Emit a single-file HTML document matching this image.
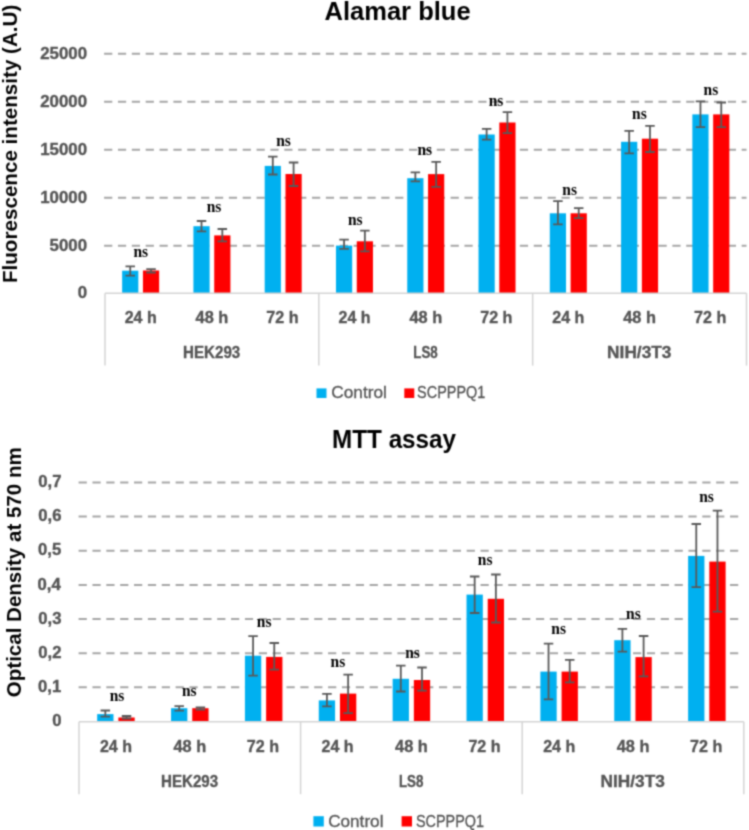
<!DOCTYPE html>
<html><head><meta charset="utf-8"><title>Alamar blue / MTT assay</title>
<style>
html,body{margin:0;padding:0;background:#fff;}
body{width:749px;height:830px;overflow:hidden;}
svg{display:block;}
text{font-family:"Liberation Sans",sans-serif;}
.ns{font-family:"Liberation Serif",serif;font-weight:bold;fill:#000;}
.cat,.tick{font-weight:bold;fill:#555555;stroke:#555555;stroke-width:0.35px;}
.title,.ytitle{font-weight:bold;fill:#000;}
.leg{fill:#555555;stroke:#555555;stroke-width:0.3px;}
</style></head>
<body>
<svg width="749" height="830" viewBox="0 0 749 830">
<defs><filter id="soft" x="0" y="0" width="749" height="830" filterUnits="userSpaceOnUse" primitiveUnits="userSpaceOnUse" color-interpolation-filters="sRGB"><feConvolveMatrix order="5" kernelMatrix="0.00009 0.00198 0.00548 0.00198 0.00009 0.00198 0.04220 0.11707 0.04220 0.00198 0.00548 0.11707 0.32480 0.11707 0.00548 0.00198 0.04220 0.11707 0.04220 0.00198 0.00009 0.00198 0.00548 0.00198 0.00009" divisor="1" edgeMode="duplicate" preserveAlpha="false"/></filter></defs>
<g filter="url(#soft)">
<rect width="749" height="830" fill="#fff"/>
<line x1="104.1" y1="53.70" x2="746.50" y2="53.70" stroke="#a6a6a6" stroke-width="2.0" stroke-dasharray="8.2 5.66"/>
<line x1="104.1" y1="101.70" x2="746.50" y2="101.70" stroke="#a6a6a6" stroke-width="2.0" stroke-dasharray="8.2 5.66"/>
<line x1="104.1" y1="149.70" x2="746.50" y2="149.70" stroke="#a6a6a6" stroke-width="2.0" stroke-dasharray="8.2 5.66"/>
<line x1="104.1" y1="197.70" x2="746.50" y2="197.70" stroke="#a6a6a6" stroke-width="2.0" stroke-dasharray="8.2 5.66"/>
<line x1="104.1" y1="245.70" x2="746.50" y2="245.70" stroke="#a6a6a6" stroke-width="2.0" stroke-dasharray="8.2 5.66"/>
<rect x="122.14" y="270.70" width="16.20" height="22.30" fill="#00b0f0"/>
<path d="M125.49 266.40H134.99M130.24 266.40V275.60M125.49 275.60H134.99" stroke="#595959" stroke-width="1.8" fill="none"/>
<rect x="142.94" y="270.50" width="16.20" height="22.50" fill="#ff0000"/>
<path d="M146.29 269.20H155.79M151.04 269.20V272.50M146.29 272.50H155.79" stroke="#595959" stroke-width="1.8" fill="none"/>
<text class="ns" font-size="16.0" transform="translate(133.43 257.40) scale(0.9700 1)">ns</text>
<rect x="193.42" y="226.20" width="16.20" height="66.80" fill="#00b0f0"/>
<path d="M196.77 221.00H206.27M201.52 221.00V231.40M196.77 231.40H206.27" stroke="#595959" stroke-width="1.8" fill="none"/>
<rect x="214.22" y="235.40" width="16.20" height="57.60" fill="#ff0000"/>
<path d="M217.57 229.00H227.07M222.32 229.00V241.40M217.57 241.40H227.07" stroke="#595959" stroke-width="1.8" fill="none"/>
<text class="ns" font-size="16.0" transform="translate(206.63 212.30) scale(0.9700 1)">ns</text>
<rect x="264.69" y="165.90" width="16.20" height="127.10" fill="#00b0f0"/>
<path d="M268.04 156.70H277.54M272.79 156.70V174.50M268.04 174.50H277.54" stroke="#595959" stroke-width="1.8" fill="none"/>
<rect x="285.49" y="174.00" width="16.20" height="119.00" fill="#ff0000"/>
<path d="M288.84 162.50H298.34M293.59 162.50V186.00M288.84 186.00H298.34" stroke="#595959" stroke-width="1.8" fill="none"/>
<text class="ns" font-size="16.0" transform="translate(276.13 146.30) scale(0.9700 1)">ns</text>
<rect x="335.97" y="245.60" width="16.20" height="47.40" fill="#00b0f0"/>
<path d="M339.32 239.60H348.82M344.07 239.60V248.80M339.32 248.80H348.82" stroke="#595959" stroke-width="1.8" fill="none"/>
<rect x="356.77" y="241.30" width="16.20" height="51.70" fill="#ff0000"/>
<path d="M360.12 230.70H369.62M364.87 230.70V251.40M360.12 251.40H369.62" stroke="#595959" stroke-width="1.8" fill="none"/>
<text class="ns" font-size="16.0" transform="translate(347.93 224.80) scale(0.9700 1)">ns</text>
<rect x="407.25" y="178.20" width="16.20" height="114.80" fill="#00b0f0"/>
<path d="M410.60 172.40H420.10M415.35 172.40V181.30M410.60 181.30H420.10" stroke="#595959" stroke-width="1.8" fill="none"/>
<rect x="428.05" y="174.10" width="16.20" height="118.90" fill="#ff0000"/>
<path d="M431.40 161.80H440.90M436.15 161.80V186.80M431.40 186.80H440.90" stroke="#595959" stroke-width="1.8" fill="none"/>
<text class="ns" font-size="16.0" transform="translate(417.43 155.30) scale(0.9700 1)">ns</text>
<rect x="478.53" y="134.50" width="16.20" height="158.50" fill="#00b0f0"/>
<path d="M481.88 128.80H491.38M486.63 128.80V139.70M481.88 139.70H491.38" stroke="#595959" stroke-width="1.8" fill="none"/>
<rect x="499.33" y="122.50" width="16.20" height="170.50" fill="#ff0000"/>
<path d="M502.68 112.10H512.18M507.43 112.10V133.10M502.68 133.10H512.18" stroke="#595959" stroke-width="1.8" fill="none"/>
<text class="ns" font-size="16.0" transform="translate(488.63 105.50) scale(0.9700 1)">ns</text>
<rect x="549.81" y="213.30" width="16.20" height="79.70" fill="#00b0f0"/>
<path d="M553.16 201.10H562.66M557.91 201.10V224.30M553.16 224.30H562.66" stroke="#595959" stroke-width="1.8" fill="none"/>
<rect x="570.61" y="213.30" width="16.20" height="79.70" fill="#ff0000"/>
<path d="M573.96 208.10H583.46M578.71 208.10V218.20M573.96 218.20H583.46" stroke="#595959" stroke-width="1.8" fill="none"/>
<text class="ns" font-size="16.0" transform="translate(562.33 195.30) scale(0.9700 1)">ns</text>
<rect x="621.08" y="141.80" width="16.20" height="151.20" fill="#00b0f0"/>
<path d="M624.43 130.80H633.93M629.18 130.80V153.40M624.43 153.40H633.93" stroke="#595959" stroke-width="1.8" fill="none"/>
<rect x="641.88" y="138.70" width="16.20" height="154.30" fill="#ff0000"/>
<path d="M645.23 125.90H654.73M649.98 125.90V152.00M645.23 152.00H654.73" stroke="#595959" stroke-width="1.8" fill="none"/>
<text class="ns" font-size="16.0" transform="translate(632.03 119.30) scale(0.9700 1)">ns</text>
<rect x="692.36" y="114.40" width="16.20" height="178.60" fill="#00b0f0"/>
<path d="M695.71 101.40H705.21M700.46 101.40V127.10M695.71 127.10H705.21" stroke="#595959" stroke-width="1.8" fill="none"/>
<rect x="713.16" y="114.40" width="16.20" height="178.60" fill="#ff0000"/>
<path d="M716.51 102.50H726.01M721.26 102.50V127.10M716.51 127.10H726.01" stroke="#595959" stroke-width="1.8" fill="none"/>
<text class="ns" font-size="16.0" transform="translate(703.53 94.50) scale(0.9700 1)">ns</text>
<path d="M105.00 293.20H746.50" stroke="#d4d4d4" stroke-width="1.5" fill="none"/>
<path d="M105.00 293.20V365.60" stroke="#d4d4d4" stroke-width="1.5" fill="none"/>
<path d="M318.83 293.20V365.60" stroke="#d4d4d4" stroke-width="1.5" fill="none"/>
<path d="M532.67 293.20V365.60" stroke="#d4d4d4" stroke-width="1.5" fill="none"/>
<path d="M746.50 293.20V365.60" stroke="#d4d4d4" stroke-width="1.5" fill="none"/>
<text class="cat" font-size="16.2" transform="translate(124.66 322.70) scale(0.9889 1)">24 h</text>
<text class="cat" font-size="16.2" transform="translate(195.59 322.70) scale(1.0095 1)">48 h</text>
<text class="cat" font-size="16.2" transform="translate(266.35 322.70) scale(0.9942 1)">72 h</text>
<text class="cat" font-size="16.2" transform="translate(338.49 322.70) scale(0.9889 1)">24 h</text>
<text class="cat" font-size="16.2" transform="translate(409.42 322.70) scale(1.0095 1)">48 h</text>
<text class="cat" font-size="16.2" transform="translate(480.18 322.70) scale(0.9942 1)">72 h</text>
<text class="cat" font-size="16.2" transform="translate(552.32 322.70) scale(0.9889 1)">24 h</text>
<text class="cat" font-size="16.2" transform="translate(623.26 322.70) scale(1.0095 1)">48 h</text>
<text class="cat" font-size="16.2" transform="translate(694.02 322.70) scale(0.9942 1)">72 h</text>
<text class="cat" font-size="16.2" transform="translate(183.11 358.30) scale(0.9335 1)">HEK293</text>
<text class="cat" font-size="16.2" transform="translate(413.27 358.30) scale(0.8242 1)">LS8</text>
<text class="cat" font-size="16.2" transform="translate(607.12 358.30) scale(1.0658 1)">NIH/3T3</text>
<text class="tick" font-size="16.0" transform="translate(40.15 58.50) scale(1.0550 1)">25000</text>
<text class="tick" font-size="16.0" transform="translate(40.15 106.50) scale(1.0550 1)">20000</text>
<text class="tick" font-size="16.0" transform="translate(40.15 154.50) scale(1.0550 1)">15000</text>
<text class="tick" font-size="16.0" transform="translate(40.15 202.50) scale(1.0550 1)">10000</text>
<text class="tick" font-size="16.0" transform="translate(49.60 250.50) scale(1.0550 1)">5000</text>
<text class="tick" font-size="16.0" transform="translate(77.79 297.80) scale(1.0550 1)">0</text>
<text class="title" font-size="25.9" transform="translate(324.53 19.80) scale(0.9857 1)">Alamar blue</text>
<text class="ytitle" font-size="21.0" transform="translate(16.50 283.04) rotate(-90) scale(0.9826 1)">Fluorescence intensity (A.U)</text>
<rect x="316.5" y="388.4" width="10.0" height="9.6" fill="#00b0f0"/>
<rect x="404.3" y="388.4" width="10.0" height="9.6" fill="#ff0000"/>
<text class="leg" font-size="16.5" transform="translate(331.24 397.90) scale(1.0465 1)">Control</text>
<text class="leg" font-size="16.5" transform="translate(417.08 397.90) scale(0.8750 1)">SCPPPQ1</text>
<line x1="78.6" y1="687.35" x2="743.80" y2="687.35" stroke="#a6a6a6" stroke-width="2.0" stroke-dasharray="8.2 5.66"/>
<line x1="78.6" y1="653.20" x2="743.80" y2="653.20" stroke="#a6a6a6" stroke-width="2.0" stroke-dasharray="8.2 5.66"/>
<line x1="78.6" y1="619.05" x2="743.80" y2="619.05" stroke="#a6a6a6" stroke-width="2.0" stroke-dasharray="8.2 5.66"/>
<line x1="78.6" y1="584.90" x2="743.80" y2="584.90" stroke="#a6a6a6" stroke-width="2.0" stroke-dasharray="8.2 5.66"/>
<line x1="78.6" y1="550.75" x2="743.80" y2="550.75" stroke="#a6a6a6" stroke-width="2.0" stroke-dasharray="8.2 5.66"/>
<line x1="78.6" y1="516.60" x2="743.80" y2="516.60" stroke="#a6a6a6" stroke-width="2.0" stroke-dasharray="8.2 5.66"/>
<line x1="78.6" y1="482.45" x2="743.80" y2="482.45" stroke="#a6a6a6" stroke-width="2.0" stroke-dasharray="8.2 5.66"/>
<rect x="97.18" y="714.10" width="16.30" height="7.70" fill="#00b0f0"/>
<path d="M100.58 710.50H110.08M105.33 710.50V716.70M100.58 716.70H110.08" stroke="#595959" stroke-width="1.8" fill="none"/>
<rect x="118.38" y="717.50" width="16.30" height="4.30" fill="#ff0000"/>
<path d="M121.78 716.00H131.28M126.53 716.00V718.50M121.78 718.50H131.28" stroke="#595959" stroke-width="1.8" fill="none"/>
<text class="ns" font-size="16.0" transform="translate(109.63 701.00) scale(0.9700 1)">ns</text>
<rect x="171.05" y="708.20" width="16.30" height="13.60" fill="#00b0f0"/>
<path d="M174.45 706.10H183.95M179.20 706.10V710.60M174.45 710.60H183.95" stroke="#595959" stroke-width="1.8" fill="none"/>
<rect x="192.25" y="708.20" width="16.30" height="13.60" fill="#ff0000"/>
<path d="M195.65 707.30H205.15M200.40 707.30V709.70M195.65 709.70H205.15" stroke="#595959" stroke-width="1.8" fill="none"/>
<text class="ns" font-size="16.0" transform="translate(181.93 695.80) scale(0.9700 1)">ns</text>
<rect x="244.92" y="655.70" width="16.30" height="66.10" fill="#00b0f0"/>
<path d="M248.32 636.20H257.82M253.07 636.20V675.60M248.32 675.60H257.82" stroke="#595959" stroke-width="1.8" fill="none"/>
<rect x="266.12" y="656.90" width="16.30" height="64.90" fill="#ff0000"/>
<path d="M269.52 643.00H279.02M274.27 643.00V669.70M269.52 669.70H279.02" stroke="#595959" stroke-width="1.8" fill="none"/>
<text class="ns" font-size="16.0" transform="translate(256.83 627.30) scale(0.9700 1)">ns</text>
<rect x="318.78" y="700.40" width="16.30" height="21.40" fill="#00b0f0"/>
<path d="M322.18 693.90H331.68M326.93 693.90V706.30M322.18 706.30H331.68" stroke="#595959" stroke-width="1.8" fill="none"/>
<rect x="339.98" y="693.60" width="16.30" height="28.20" fill="#ff0000"/>
<path d="M343.38 674.60H352.88M348.13 674.60V713.20M343.38 713.20H352.88" stroke="#595959" stroke-width="1.8" fill="none"/>
<text class="ns" font-size="16.0" transform="translate(330.53 667.00) scale(0.9700 1)">ns</text>
<rect x="392.65" y="678.80" width="16.30" height="43.00" fill="#00b0f0"/>
<path d="M396.05 665.70H405.55M400.80 665.70V691.50M396.05 691.50H405.55" stroke="#595959" stroke-width="1.8" fill="none"/>
<rect x="413.85" y="680.00" width="16.30" height="41.80" fill="#ff0000"/>
<path d="M417.25 667.50H426.75M422.00 667.50V690.60M417.25 690.60H426.75" stroke="#595959" stroke-width="1.8" fill="none"/>
<text class="ns" font-size="16.0" transform="translate(405.23 657.50) scale(0.9700 1)">ns</text>
<rect x="466.52" y="594.60" width="16.30" height="127.20" fill="#00b0f0"/>
<path d="M469.92 576.50H479.42M474.67 576.50V613.00M469.92 613.00H479.42" stroke="#595959" stroke-width="1.8" fill="none"/>
<rect x="487.72" y="598.80" width="16.30" height="123.00" fill="#ff0000"/>
<path d="M491.12 574.50H500.62M495.87 574.50V622.50M491.12 622.50H500.62" stroke="#595959" stroke-width="1.8" fill="none"/>
<text class="ns" font-size="16.0" transform="translate(477.83 564.70) scale(0.9700 1)">ns</text>
<rect x="540.38" y="671.60" width="16.30" height="50.20" fill="#00b0f0"/>
<path d="M543.78 643.60H553.28M548.53 643.60V699.30M543.78 699.30H553.28" stroke="#595959" stroke-width="1.8" fill="none"/>
<rect x="561.58" y="671.60" width="16.30" height="50.20" fill="#ff0000"/>
<path d="M564.98 659.80H574.48M569.73 659.80V682.40M564.98 682.40H574.48" stroke="#595959" stroke-width="1.8" fill="none"/>
<text class="ns" font-size="16.0" transform="translate(551.33 634.20) scale(0.9700 1)">ns</text>
<rect x="614.25" y="640.20" width="16.30" height="81.60" fill="#00b0f0"/>
<path d="M617.65 628.80H627.15M622.40 628.80V651.70M617.65 651.70H627.15" stroke="#595959" stroke-width="1.8" fill="none"/>
<rect x="635.45" y="657.10" width="16.30" height="64.70" fill="#ff0000"/>
<path d="M638.85 636.00H648.35M643.60 636.00V676.40M638.85 676.40H648.35" stroke="#595959" stroke-width="1.8" fill="none"/>
<text class="ns" font-size="16.0" transform="translate(626.03 619.10) scale(0.9700 1)">ns</text>
<rect x="688.12" y="555.90" width="16.30" height="165.90" fill="#00b0f0"/>
<path d="M691.52 524.00H701.02M696.27 524.00V587.20M691.52 587.20H701.02" stroke="#595959" stroke-width="1.8" fill="none"/>
<rect x="709.32" y="561.60" width="16.30" height="160.20" fill="#ff0000"/>
<path d="M712.72 510.70H722.22M717.47 510.70V611.60M712.72 611.60H722.22" stroke="#595959" stroke-width="1.8" fill="none"/>
<text class="ns" font-size="16.0" transform="translate(699.23 501.70) scale(0.9700 1)">ns</text>
<path d="M79.00 721.80H743.80" stroke="#d4d4d4" stroke-width="1.5" fill="none"/>
<path d="M79.00 721.80V794.20" stroke="#d4d4d4" stroke-width="1.5" fill="none"/>
<path d="M300.60 721.80V794.20" stroke="#d4d4d4" stroke-width="1.5" fill="none"/>
<path d="M522.20 721.80V794.20" stroke="#d4d4d4" stroke-width="1.5" fill="none"/>
<path d="M743.80 721.80V794.20" stroke="#d4d4d4" stroke-width="1.5" fill="none"/>
<text class="cat" font-size="16.2" transform="translate(99.95 752.20) scale(0.9889 1)">24 h</text>
<text class="cat" font-size="16.2" transform="translate(173.47 752.20) scale(1.0095 1)">48 h</text>
<text class="cat" font-size="16.2" transform="translate(246.82 752.20) scale(0.9942 1)">72 h</text>
<text class="cat" font-size="16.2" transform="translate(321.55 752.20) scale(0.9889 1)">24 h</text>
<text class="cat" font-size="16.2" transform="translate(395.07 752.20) scale(1.0095 1)">48 h</text>
<text class="cat" font-size="16.2" transform="translate(468.42 752.20) scale(0.9942 1)">72 h</text>
<text class="cat" font-size="16.2" transform="translate(543.15 752.20) scale(0.9889 1)">24 h</text>
<text class="cat" font-size="16.2" transform="translate(616.67 752.20) scale(1.0095 1)">48 h</text>
<text class="cat" font-size="16.2" transform="translate(690.02 752.20) scale(0.9942 1)">72 h</text>
<text class="cat" font-size="16.2" transform="translate(160.99 787.40) scale(0.9335 1)">HEK293</text>
<text class="cat" font-size="16.2" transform="translate(398.92 787.40) scale(0.8242 1)">LS8</text>
<text class="cat" font-size="16.2" transform="translate(600.54 787.40) scale(1.0658 1)">NIH/3T3</text>
<text class="tick" font-size="16.0" transform="translate(38.23 487.05) scale(1.0450 1)">0,7</text>
<text class="tick" font-size="16.0" transform="translate(38.23 521.20) scale(1.0450 1)">0,6</text>
<text class="tick" font-size="16.0" transform="translate(38.06 555.35) scale(1.0450 1)">0,5</text>
<text class="tick" font-size="16.0" transform="translate(37.56 589.50) scale(1.0450 1)">0,4</text>
<text class="tick" font-size="16.0" transform="translate(38.23 623.65) scale(1.0450 1)">0,3</text>
<text class="tick" font-size="16.0" transform="translate(38.23 657.80) scale(1.0450 1)">0,2</text>
<text class="tick" font-size="16.0" transform="translate(38.06 691.95) scale(1.0450 1)">0,1</text>
<text class="tick" font-size="16.0" transform="translate(52.27 726.10) scale(1.0450 1)">0</text>
<text class="title" font-size="26.3" transform="translate(332.10 448.40) scale(0.9219 1)">MTT assay</text>
<text class="ytitle" font-size="20.7" transform="translate(21.10 697.22) rotate(-90) scale(0.9926 1)">Optical Density at 570 nm</text>
<rect x="313.4" y="816.2" width="10.4" height="10.3" fill="#00b0f0"/>
<rect x="401.6" y="816.2" width="10.4" height="10.3" fill="#ff0000"/>
<text class="leg" font-size="16.5" transform="translate(328.14 826.60) scale(1.0406 1)">Control</text>
<text class="leg" font-size="16.5" transform="translate(415.88 826.60) scale(0.8750 1)">SCPPPQ1</text>
</g>
</svg>
</body></html>
